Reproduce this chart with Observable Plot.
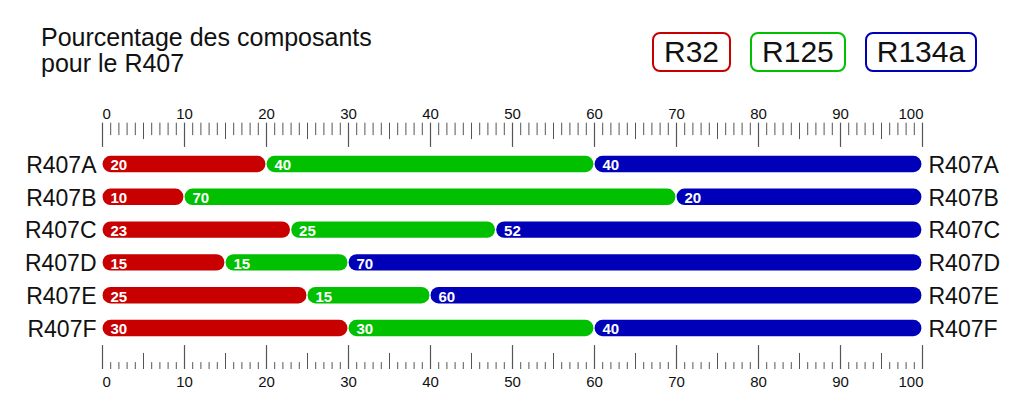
<!DOCTYPE html>
<html>
<head>
<meta charset="utf-8">
<script src="https://cdn.jsdelivr.net/npm/d3@7"></script>
<script src="https://cdn.jsdelivr.net/npm/@observablehq/plot@0.6"></script>
<style>
  body { margin: 0; background: #fff; font-family: "Liberation Sans", Arial, sans-serif; }
  #wrap { position: relative; width: 1024px; height: 414px; overflow: hidden; }
  #header { position: relative; height: 88px; }
  #title { position: absolute; left: 41px; top: 24px; font-size: 25px; line-height: 26px; color: #111; }
  #legend { position: absolute; left: 652px; top: 32px; display: flex; gap: 19px; }
  .leg { height: 40px; box-sizing: border-box; border: 2px solid; border-radius: 8px; padding: 0 10px;
         display: flex; align-items: center; justify-content: center; font-size: 30px; color: #111; }
</style>
</head>
<body>
<div id="wrap">
  <div id="header">
    <div id="title">Pourcentage des composants<br>pour le R407</div>
    <div id="legend"></div>
  </div>
  <div id="chart"></div>
</div>
<script>
// ---- Data ----
const refrigerants = ["R407A", "R407B", "R407C", "R407D", "R407E", "R407F"];
const components = ["R32", "R125", "R134a"];
// labels printed in each segment
const r32 = [20, 10, 23, 15, 25, 30];
const r125 = [40, 70, 25, 15, 15, 30];
const r134a = [40, 20, 52, 70, 60, 40];
// where each drawn segment ends on the 0–100 scale (as drawn in the picture)
const r32End = [20, 10, 23, 15, 25, 30];
const r125End = [60, 70, 48, 30, 40, 60];
const r134aEnd = [100, 100, 100, 100, 100, 100];
const colors = ["#c80000", "#00c000", "#0000b8"];
const tickLabels = [0, 10, 20, 30, 40, 50, 60, 70, 80, 90, 100];

// ---- Build table ----
const labels = [r32, r125, r134a];
const ends = [r32End, r125End, r134aEnd];
const segments = [];
refrigerants.forEach((name, i) => {
  let start = 0;
  components.forEach((comp, j) => {
    const end = ends[j][i];
    segments.push({ name, row: i, component: comp, value: labels[j][i], start, end });
    start = end;
  });
});
const rows = refrigerants.map((name, i) => ({ name, row: i }));

// ---- Legend ----
const legend = document.getElementById("legend");
components.forEach((c, j) => {
  const d = document.createElement("div");
  d.className = "leg";
  d.style.borderColor = colors[j];
  d.textContent = c;
  legend.appendChild(d);
});

// ---- Ticks ----
const allTicks = d3.range(0, 101);
const minorTicks = allTicks.filter(t => t % 5 !== 0);
const mediumTicks = allTicks.filter(t => t % 5 === 0 && t % 10 !== 0);
const majorTicks = tickLabels;

const step = 32.8, row0 = 76;
const yDomain = [-2.3, 7.5];
const font = "Liberation Sans, Arial, sans-serif";
const tickColor = "#555";

function axisMarks(ticks) {
  const [topY, minorY, medY, majY] = ticks;
  return [
    Plot.ruleX(minorTicks, { x: d => d, y1: topY, y2: minorY, stroke: tickColor, strokeWidth: 1 }),
    Plot.ruleX(mediumTicks, { x: d => d, y1: topY, y2: medY, stroke: tickColor, strokeWidth: 1 }),
    Plot.ruleX(majorTicks, { x: d => d, y1: topY, y2: majY, stroke: tickColor, strokeWidth: 1.2 })
  ];
}
function labelMarks(ly) {
  const common = { y: () => ly, text: d => String(d), fontSize: 15, fill: "#111", fontFamily: font, lineAnchor: "middle" };
  return [
    Plot.text(tickLabels.filter((d, i) => i === 0), { ...common, x: d => d, textAnchor: "start", dx: 0 }),
    Plot.text(tickLabels.filter((d, i) => i > 0 && i < tickLabels.length - 1), { ...common, x: d => d, textAnchor: "middle" }),
    Plot.text(tickLabels.filter((d, i) => i === tickLabels.length - 1), { ...common, x: d => d, textAnchor: "end", dx: 1 })
  ];
}

const chart = Plot.plot({
  width: 1024,
  height: 326,
  marginLeft: 102,
  marginRight: 102,
  marginTop: 0,
  marginBottom: 0,
  style: { fontFamily: font, background: "white" },
  x: { domain: [0, 100], axis: null },
  y: { domain: yDomain, range: yDomain.map(v => row0 + v * step), axis: null },
  color: { domain: components, range: colors },
  marks: [
    // top axis (ticks hang down)
    ...axisMarks([-1.26, -0.88, -0.76, -0.52]),
    ...labelMarks(-1.53),
    // bottom axis (ticks rise up)
    ...axisMarks([6.25, 6.04, 5.76, 5.52]),
    ...labelMarks(6.65),
    // bars
    Plot.rect(segments, {
      x1: "start", x2: "end",
      y1: d => d.row - 0.25, y2: d => d.row + 0.25,
      fill: "component", rx: 8, insetLeft: 0.6, insetRight: 0.6
    }),
    Plot.text(segments, {
      x: "start", y: "row", text: d => String(d.value),
      dx: 8, dy: 1, textAnchor: "start", lineAnchor: "middle",
      fill: "white", fontWeight: "bold", fontSize: 15, fontFamily: font
    }),
    // row labels
    Plot.text(rows, { x: () => 0, y: "row", text: "name", textAnchor: "end", dx: -6, dy: 1, lineAnchor: "middle", fontSize: 23, fill: "#111", fontFamily: font }),
    Plot.text(rows, { x: () => 100, y: "row", text: "name", textAnchor: "start", dx: 6, dy: 1, lineAnchor: "middle", fontSize: 23, fill: "#111", fontFamily: font })
  ]
});
document.getElementById("chart").appendChild(chart);
</script>
</body>
</html>
